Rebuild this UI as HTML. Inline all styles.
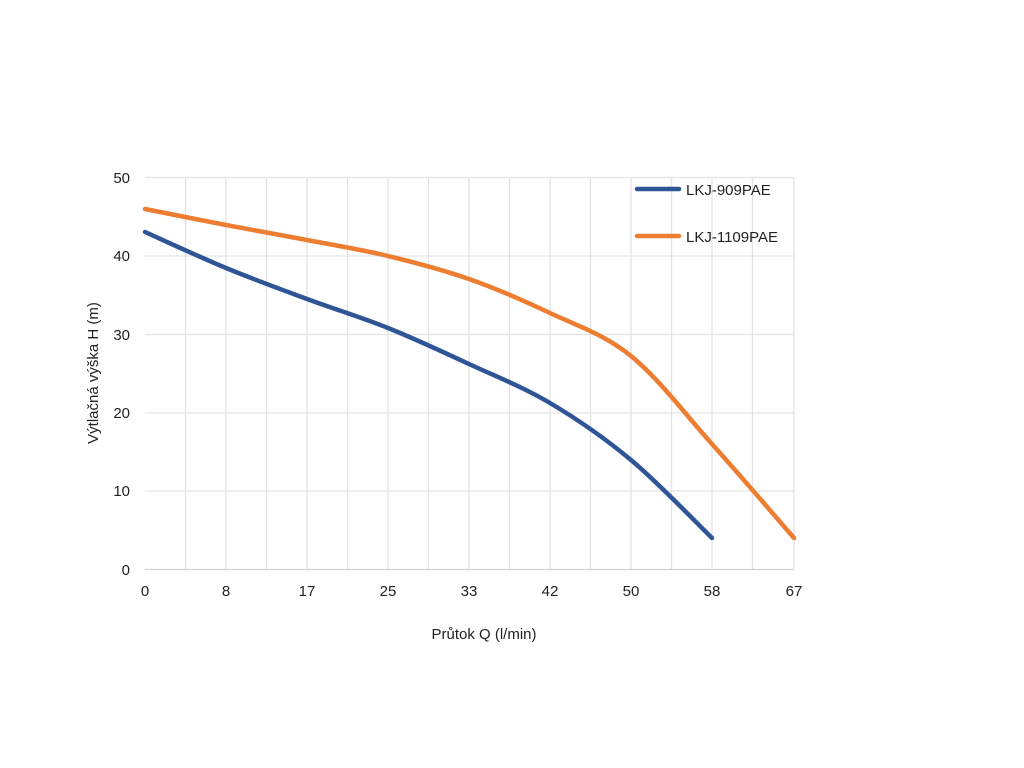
<!DOCTYPE html>
<html><head><meta charset="utf-8"><style>body{margin:0;background:#fff}svg{display:block}text{font-family:"Liberation Sans",sans-serif;fill:#222}</style></head>
<body>
<svg width="1024" height="768" viewBox="0 0 1024 768">
<g stroke="#e3e3e3" stroke-width="1.3">
<line x1="145" y1="177.5" x2="794" y2="177.5"/><line x1="145" y1="256" x2="794" y2="256"/><line x1="145" y1="334.5" x2="794" y2="334.5"/><line x1="145" y1="413" x2="794" y2="413"/><line x1="145" y1="491" x2="794" y2="491"/>
<line x1="185.5" y1="177" x2="185.5" y2="569"/><line x1="226" y1="177" x2="226" y2="569"/><line x1="266.5" y1="177" x2="266.5" y2="569"/><line x1="307" y1="177" x2="307" y2="569"/><line x1="347.5" y1="177" x2="347.5" y2="569"/><line x1="388" y1="177" x2="388" y2="569"/><line x1="428.5" y1="177" x2="428.5" y2="569"/><line x1="469" y1="177" x2="469" y2="569"/><line x1="509.5" y1="177" x2="509.5" y2="569"/><line x1="550" y1="177" x2="550" y2="569"/><line x1="590.5" y1="177" x2="590.5" y2="569"/><line x1="631" y1="177" x2="631" y2="569"/><line x1="671.5" y1="177" x2="671.5" y2="569"/><line x1="712" y1="177" x2="712" y2="569"/><line x1="752.5" y1="177" x2="752.5" y2="569"/><line x1="794" y1="177" x2="794" y2="569"/>
</g>
<line x1="145" y1="569.5" x2="794" y2="569.5" stroke="#d0d0d0" stroke-width="1.3"/>
<g font-size="15" text-anchor="end"><text x="130" y="183">50</text><text x="130" y="261">40</text><text x="130" y="340">30</text><text x="130" y="418">20</text><text x="130" y="496">10</text><text x="130" y="575">0</text></g>
<g font-size="15" text-anchor="middle"><text x="145" y="596">0</text><text x="226" y="596">8</text><text x="307" y="596">17</text><text x="388" y="596">25</text><text x="469" y="596">33</text><text x="550" y="596">42</text><text x="631" y="596">50</text><text x="712" y="596">58</text><text x="794" y="596">67</text></g>
<text x="484" y="639" font-size="15" text-anchor="middle">Průtok Q (l/min)</text>
<text transform="translate(98,373) rotate(-90)" font-size="15" text-anchor="middle">Výtlačná výška H (m)</text>
<path fill="none" stroke="#2f5597" stroke-width="4.5" stroke-linecap="round" d="M145,232 C158.5,238 199,256.8 226,268 C253,279.2 280,289 307,299 C334,309 361,317.2 388,328 C415,338.8 442,351.5 469,364 C496,376.5 523,387 550,403 C577,419 604,437.5 631,460 C658,482.5 698.5,525 712,538"/>
<path fill="none" stroke="#ed7d31" stroke-width="4.5" stroke-linecap="round" d="M145,209 C158.5,211.7 199,219.8 226,225 C253,230.2 280,234.8 307,240 C334,245.2 361,249.5 388,256 C415,262.5 442,269.5 469,279 C496,288.5 523,300.2 550,313 C577,325.8 604,334.2 631,356 C658,377.8 684.8,413.7 712,444 C739.3,474.3 780.3,522.3 794,538"/>
<line x1="637" y1="189" x2="679" y2="189" stroke="#2f5597" stroke-width="4.5" stroke-linecap="round"/>
<text x="686" y="195" font-size="15">LKJ-909PAE</text>
<line x1="637" y1="236" x2="679" y2="236" stroke="#ed7d31" stroke-width="4.5" stroke-linecap="round"/>
<text x="686" y="242" font-size="15">LKJ-1109PAE</text>
</svg>
</body></html>
